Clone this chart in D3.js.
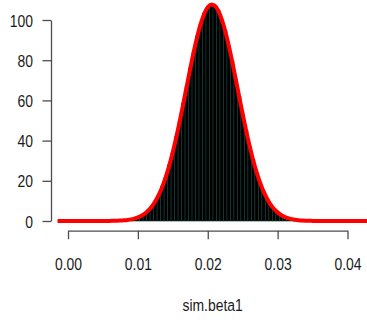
<!DOCTYPE html>
<html>
<head>
<meta charset="utf-8">
<script src="https://cdn.jsdelivr.net/npm/d3@7"></script>
<style>
  html, body { margin: 0; padding: 0; background: #fff; }
  svg { display: block; }
  .axis path, .axis line { stroke: #4d4d4d; stroke-width: 1.3; }
  .axis text { fill: #1a1a1a; font-family: "Liberation Sans", Arial, sans-serif; font-size: 17px; }
</style>
</head>
<body>
<svg id="chart" width="367" height="323"></svg>
<script>
// x ticks / y ticks
const xTicks = [0, 0.01, 0.02, 0.03, 0.04];
const yTicks = [0, 20, 40, 60, 80, 100];

// histogram (density scale), bins of 0.0005 starting at 0.00875
const binStart = 0.00875;
const binWidth = 0.0005;
const binHeights = [
  0.7, 1.1, 1.8, 2.5, 3.6, 5.3, 7.1, 9.9, 12.9, 17.3,
  21.7, 27.9, 34.0, 41.9, 49.5, 58.6, 66.8, 76.1, 83.9, 92.0,
  97.8, 103.4, 106.1, 107.9, 106.9, 104.9, 100.1, 94.7, 87.1, 79.5,
  70.4, 62.1, 52.9, 45.1, 36.9, 30.4, 23.9, 19.1, 14.4, 11.2,
  8.0, 6.0, 4.2, 3.1, 2.0, 1.4, 0.9, 0.6, 0.4, 0.2
];

// red density curve
const curveX = [
  -0.0015, 0.000, 0.002, 0.004, 0.005, 0.0055, 0.006, 0.0065, 0.007, 0.0075,
  0.008, 0.0085, 0.009, 0.0095, 0.010, 0.0105, 0.011, 0.0115, 0.012, 0.0125,
  0.013, 0.0135, 0.014, 0.0145, 0.015, 0.0155, 0.016, 0.0165, 0.017, 0.0175,
  0.018, 0.0185, 0.019, 0.0195, 0.020, 0.0205, 0.021, 0.0215, 0.022, 0.0225,
  0.023, 0.0235, 0.024, 0.0245, 0.025, 0.0255, 0.026, 0.0265, 0.027, 0.0275,
  0.028, 0.0285, 0.029, 0.0295, 0.030, 0.0305, 0.031, 0.0315, 0.032, 0.0325,
  0.033, 0.0335, 0.034, 0.035, 0.036, 0.038, 0.040, 0.044
];
const curveY = [
  0, 0, 0, 0.01, 0.02, 0.03, 0.05, 0.08, 0.12, 0.2,
  0.33, 0.51, 0.79, 1.20, 1.78, 2.60, 3.72, 5.24, 7.24, 9.82,
  13.08, 17.11, 21.96, 27.69, 34.30, 41.69, 49.77, 58.34, 67.15, 75.89,
  84.21, 91.76, 98.17, 103.14, 106.39, 107.76, 107.17, 104.66, 100.35, 94.49,
  87.35, 79.29, 70.69, 61.86, 53.15, 44.86, 37.16, 30.23, 24.15, 18.94,
  14.59, 11.03, 8.19, 5.97, 4.28, 3.01, 2.08, 1.41, 0.94, 0.61,
  0.39, 0.25, 0.15, 0.06, 0.02, 0.01, 0, 0
];

const xLabel = 'sim.beta1';

const svg = d3.select('#chart');
const x = d3.scaleLinear().domain([0, 0.04]).range([68, 347.5]);
const y = d3.scaleLinear().domain([0, 100]).range([221, 20]);
const squeeze = 0.82;

// bars
svg.append('g')
  .selectAll('rect')
  .data(binHeights)
  .join('rect')
  .attr('x', (d, i) => x(binStart + i * binWidth))
  .attr('y', (d) => y(d))
  .attr('width', x(binWidth) - x(0))
  .attr('height', (d) => y(0) - y(d))
  .attr('fill', '#000')
  .attr('stroke', '#0f3d39')
  .attr('stroke-width', 0.6);

// density curve
const line = d3.line().x((d) => x(d[0])).y((d) => y(d[1])).curve(d3.curveMonotoneX);
svg.append('path')
  .attr('d', line(curveX.map((v, i) => [v, curveY[i]])))
  .attr('fill', 'none')
  .attr('stroke', '#ff0000')
  .attr('stroke-width', 4)
  .attr('stroke-linejoin', 'round');

// axes
const xAxis = svg.append('g')
  .attr('class', 'axis')
  .attr('transform', 'translate(0,230.7)')
  .call(d3.axisBottom(x).tickValues(xTicks).tickFormat(d3.format('.2f')).tickSize(8.5).tickSizeOuter(0).tickPadding(19));
xAxis.selectAll('text').attr('transform', `scale(${squeeze},1)`);

const yAxis = svg.append('g')
  .attr('class', 'axis')
  .attr('transform', 'translate(51,0)')
  .call(d3.axisLeft(y).tickValues(yTicks).tickSize(8.5).tickSizeOuter(0).tickPadding(9.5));
yAxis.selectAll('text')
  .attr('x', 0)
  .attr('dy', '0.36em')
  .attr('transform', `translate(-18,0) scale(${squeeze},1)`);

svg.append('text')
  .attr('transform', `translate(${x(0.0207)},311) scale(${squeeze},1)`)
  .attr('text-anchor', 'middle')
  .attr('fill', '#1a1a1a')
  .attr('font-family', '"Liberation Sans", Arial, sans-serif')
  .attr('font-size', 17)
  .text(xLabel);
</script>
</body>
</html>
